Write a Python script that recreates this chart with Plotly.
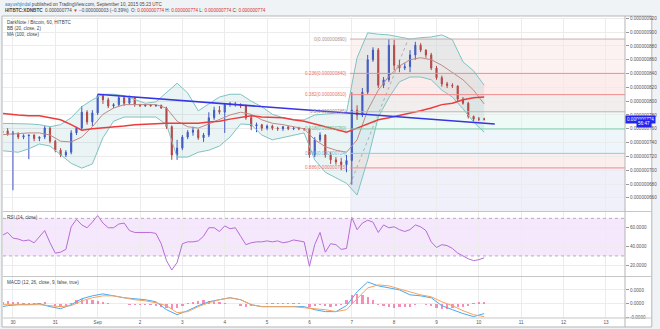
import numpy as np
import pandas as pd
import plotly.graph_objects as go
from plotly.subplots import make_subplots

NANO = 1e-9  # prices below are stored in units of 1e-9 BTC

# ---- 3-hour candles, XDN/BTC ----
candle_start = "2015-08-29 18:00"
opens = [754, 757, 752, 754, 748, 750, 751, 746, 748, 761,
         742, 729, 722, 726, 754, 761, 784, 770, 783, 808,
         802, 793, 795, 805, 797, 805, 795, 793, 795, 793,
         794, 790, 763, 722, 732, 748, 755, 758, 747, 751,
         776, 787, 784, 795, 796, 795, 793, 776, 764, 766,
         761, 764, 761, 760, 763, 760, 761, 760, 760, 722,
         744, 751, 722, 715, 712, 708, 714, 787, 780, 813,
         860, 874, 823, 831, 881, 852, 848, 850, 867, 881,
         874, 867, 848, 834, 825, 823, 822, 803, 797, 778,
         774, 774]
highs = [761, 761, 757, 754, 752, 751, 752, 749, 764, 763,
         744, 732, 729, 758, 763, 793, 787, 787, 810, 809,
         805, 797, 808, 808, 808, 806, 796, 796, 796, 795,
         795, 792, 765, 744, 751, 758, 763, 760, 754, 784,
         792, 793, 797, 799, 799, 797, 795, 779, 769, 767,
         766, 766, 763, 764, 763, 763, 763, 761, 761, 748,
         755, 752, 726, 719, 718, 722, 813, 794, 819, 867,
         878, 877, 835, 890, 889, 860, 855, 874, 886, 884,
         875, 870, 851, 837, 828, 826, 823, 806, 799, 779,
         777, 776]
lows = [750, 750, 671, 745, 745, 716, 742, 742, 745, 739,
        726, 719, 719, 723, 751, 758, 766, 764, 780, 796,
        790, 790, 792, 793, 795, 792, 792, 792, 792, 792,
        789, 760, 715, 715, 729, 745, 750, 744, 741, 748,
        773, 781, 754, 792, 792, 790, 773, 758, 755, 757,
        758, 758, 757, 757, 758, 758, 758, 757, 718, 719,
        741, 718, 709, 708, 700, 697, 679, 773, 777, 810,
        857, 819, 819, 828, 845, 842, 845, 842, 860, 871,
        863, 845, 831, 821, 819, 819, 800, 795, 775, 771,
        771, 772]
closes = [757, 752, 754, 748, 750, 751, 746, 748, 761, 742,
          729, 722, 726, 754, 761, 784, 770, 783, 808, 802,
          793, 795, 805, 797, 805, 795, 793, 795, 793, 794,
          790, 763, 722, 732, 748, 755, 758, 747, 751, 776,
          787, 784, 795, 796, 795, 793, 776, 764, 766, 761,
          764, 761, 760, 763, 760, 761, 760, 760, 722, 744,
          751, 722, 715, 712, 708, 714, 787, 780, 813, 860,
          874, 823, 831, 881, 852, 848, 850, 867, 881, 874,
          867, 848, 834, 825, 823, 822, 803, 797, 778, 774,
          774, 774]

# ---- RSI(14) and MACD histogram on the candle grid ----
rsi = [52, 55, 49, 48, 46, 47, 44, 51, 57, 44,
       33, 34, 37, 61, 69, 63, 60, 66, 73, 65,
       60, 60, 64, 65, 57, 55, 55, 55, 55, 54,
       43, 25, 15, 23, 43, 45, 45, 46, 51, 60,
       60, 56, 62, 59, 60, 51, 42, 44, 45, 45,
       46, 45, 46, 44, 45, 47, 46, 45, 19, 42,
       55, 34, 43, 42, 37, 38, 71, 58, 65, 68,
       66, 55, 63, 60, 61, 58, 56, 58, 63, 61,
       57, 45, 39, 42, 41, 38, 33, 30, 27, 25,
       26, 28]
macd_hist = [1.5, 2, 1.5, 1, 0.5, 0.5, 0.3, 0.5, 1, -0.5,
             -1.5, -2, -1.5, 0.5, 2.5, 3.5, 3, 2.5, 2, 1.5,
             0.5, -0.3, -0.5, -0.5, -0.8, -0.8, -1, -1, -1.2, -1.5,
             -2, -3, -4, -3, -1.5, 0.5, 1.5, 2, 2.5, 2,
             1.5, 1, 0.5, 0, -0.5, -1.5, -2, -1.5, -0.5, -0.3,
             0.3, 0.3, 0.2, 0.3, 0.2, 0.2, 0.2, -0.3, -2, -1.5,
             -1, -1.5, -2, -1.5, -1, 3, 6, 7, 6, 5,
             3, -1, -1.5, -2.5, -3, -2, -2.5, -2, -1, -0.5,
             -1, -1.5, -3, -4, -3.5, -3, -2.5, -2, -1.5, 0.5,
             1, 1.2]

# ---- indicator lines, 6-hour grid ----
line_start = "2015-08-29 15:00"
bb_upper = [768, 768, 768, 767, 766, 763, 766, 776, 792, 802,
            810, 810, 808, 802, 797, 799, 813, 826, 812, 786,
            796, 806, 810, 810, 800, 792, 781, 776, 773, 773,
            780, 781, 783, 784, 863, 899, 897, 896, 893, 890,
            892, 893, 896, 889, 857, 844, 823]
bb_lower = [729, 728, 726, 731, 738, 735, 722, 710, 703, 709,
            747, 771, 777, 777, 777, 777, 766, 719, 719, 726,
            729, 735, 748, 767, 766, 751, 744, 747, 750, 754,
            715, 697, 689, 681, 664, 715, 777, 805, 828, 835,
            835, 831, 816, 806, 789, 770, 755]
bb_basis = [751, 752, 754, 754, 754, 751, 742, 741, 748, 763,
            781, 790, 795, 795, 795, 795, 790, 771, 763, 761,
            767, 773, 780, 784, 781, 773, 768, 766, 763, 760,
            744, 734, 729, 726, 744, 787, 816, 836, 851, 860,
            863, 860, 852, 842, 831, 816, 796]
ma100 = [783, 781, 780, 779, 779, 776, 773, 766, 758, 760,
         761, 763, 764, 766, 767, 767, 768, 768, 768, 768,
         770, 771, 774, 777, 779, 777, 776, 776, 773, 771,
         767, 763, 758, 755, 761, 767, 773, 776, 779, 783,
         786, 790, 795, 797, 802, 805, 806]
macd_line = [-2.9, -1.4, -0.7, -0.7, 0, -2.1, -3.6, -0.7, 3.6, 5.7,
             7.1, 5.7, 4.3, 3.6, 2.9, 1.4, -4.3, -7.9, -5.0, -1.4,
             1.4, 2.9, 4.3, 2.9, -0.7, -2.1, -2.1, -2.1, -2.1, -2.1,
             -4.3, -5.7, -5.7, -1.4, 8.6, 15.7, 12.9, 11.4, 10, 6.4,
             5.7, 4.3, -1.4, -4.3, -7.1, -9.3, -7.1]
macd_signal = [-0.7, -0.7, -0.7, -0.7, -0.7, -1.4, -2.1, -1.4, 2.1, 4.3,
               5.7, 5.7, 4.3, 2.9, 2.1, 0.7, -1.4, -6.4, -5.7, -2.1,
               0.7, 2.9, 4.3, 2.9, -0.7, -2.1, -2.1, -2.1, -2.1, -2.9,
               -3.6, -4.3, -5.7, -4.3, 3.6, 11.4, 13.6, 12.9, 10.7, 8.6,
               6.4, 5.0, 1.4, -1.4, -5.0, -7.9, -9.3]

# ---- drawings ----
trend_times = ["2015-09-01 00:00", "2015-09-10 09:00"]
trend_prices = [810, 767]
fib_start = "2015-09-06 23:00"
fib_peak_time = "2015-09-08 08:00"
fib_high, fib_low = 890, 679.3
fib_levels = [0, 0.236, 0.382, 0.5, 0.618, 0.786, 0.886]
fib_line_colors = ["#c9b0b0", "#f08c8c", "#f08c8c", "#bdb5b5", "#7dd0ab", "#8ec9e8", "#f08c8c"]
fib_text_colors = ["#b08f8f", "#e87070", "#e87070", "#9a8f8f", "#5cc095", "#6fb6de", "#e87070"]
fib_band_colors = ["#fdf2f2", "#fcecec", "#f2eeee", "#eefaf5", "#eef6fc", "#fdeeee", "#f0f0fb"]

day_ticks = pd.date_range("2015-08-30", "2015-09-13", freq="D")
day_labels = ["30", "31", "Sep", "2", "3", "4", "5", "6", "7", "8", "9", "10", "11", "12", "13"]
last_price = 774
countdown = "56:47"

x_range = ["2015-08-29 18:22", "2015-09-13 10:48"]

candle_times = pd.date_range(candle_start, periods=len(closes), freq="3h")
line_times = pd.date_range(line_start, periods=len(ma100), freq="6h")
nb = lambda v: np.asarray(v, dtype=float) * NANO

FONT = "Liberation Sans, Arial, sans-serif"
GRID = "#ececec"

fig = make_subplots(rows=3, cols=1, shared_xaxes=True, vertical_spacing=0.0)

# Bollinger band fill + edges
fig.add_trace(go.Scatter(x=line_times, y=nb(bb_upper), mode="lines",
                         line=dict(color="#7fc3c3", width=1)), row=1, col=1)
fig.add_trace(go.Scatter(x=line_times, y=nb(bb_lower), mode="lines", fill="tonexty",
                         fillcolor="rgba(90,170,170,0.13)",
                         line=dict(color="#7fc3c3", width=1)), row=1, col=1)
fig.add_trace(go.Scatter(x=line_times, y=nb(bb_basis), mode="lines",
                         line=dict(color="#c08a84", width=1)), row=1, col=1)
fig.add_trace(go.Scatter(x=line_times, y=nb(ma100), mode="lines",
                         line=dict(color="#ee3b3b", width=1.5)), row=1, col=1)
fig.add_trace(go.Scatter(x=trend_times, y=nb(trend_prices), mode="lines",
                         line=dict(color="#3535e6", width=1.6)), row=1, col=1)
fig.add_trace(go.Scatter(x=[fib_start, fib_peak_time], y=nb([fib_low, fib_high]), mode="lines",
                         line=dict(color="rgba(130,130,130,0.55)", width=1, dash="dot")), row=1, col=1)
fig.add_trace(go.Candlestick(x=candle_times, open=nb(opens), high=nb(highs), low=nb(lows),
                             close=nb(closes), whiskerwidth=0,
                             increasing=dict(line=dict(color="#3d4fc6", width=1), fillcolor="#3d4fc6"),
                             decreasing=dict(line=dict(color="#c03a3a", width=1), fillcolor="#c03a3a")),
              row=1, col=1)

# RSI
fig.add_trace(go.Scatter(x=candle_times, y=rsi, mode="lines",
                         line=dict(color="#b66cd8", width=1)), row=2, col=1)

# MACD
fig.add_trace(go.Bar(x=candle_times, y=nb(macd_hist), width=3600 * 1000 * 1.3,
                     marker=dict(color="rgba(240,105,160,0.75)", line=dict(width=0))), row=3, col=1)
fig.add_trace(go.Scatter(x=line_times, y=nb(macd_line), mode="lines",
                         line=dict(color="#4aa8f2", width=1)), row=3, col=1)
fig.add_trace(go.Scatter(x=line_times, y=nb(macd_signal), mode="lines",
                         line=dict(color="#f5a35c", width=1)), row=3, col=1)

shapes = []
# chart frame
shapes.append(dict(type="rect", xref="paper", yref="paper", x0=-0.0016, x1=1.0431, y0=-0.0298, y1=1.0,
                   fillcolor="white", line=dict(color="#b5b5b5", width=1), layer="below"))

# Fibonacci bands and levels
prices = [fib_high - lv * (fib_high - fib_low) for lv in fib_levels]
band_edges = prices + [600]
for i, col in enumerate(fib_band_colors):
    shapes.append(dict(type="rect", xref="x", yref="y", x0=fib_start, x1=x_range[1],
                       y0=band_edges[i + 1] * NANO, y1=band_edges[i] * NANO,
                       fillcolor=col, line=dict(width=0), layer="below"))
for p, col in zip(prices, fib_line_colors):
    shapes.append(dict(type="line", xref="x", yref="y", x0=fib_start, x1=x_range[1],
                       y0=p * NANO, y1=p * NANO, line=dict(color=col, width=1)))

# RSI band
shapes.append(dict(type="rect", xref="paper", yref="y2", x0=0, x1=1, y0=30, y1=70,
                   fillcolor="#f5e7fc", line=dict(width=0), layer="below"))
for lv in (30, 70):
    shapes.append(dict(type="line", xref="paper", yref="y2", x0=0, x1=1, y0=lv, y1=lv,
                       line=dict(color="#b9aac2", width=1, dash="dot")))

# pane separators and price-scale border
for yp in (0.3526, 0.1374, 0.0):
    shapes.append(dict(type="line", xref="paper", yref="paper", x0=0, x1=1.0431, y0=yp, y1=yp,
                       line=dict(color="#c6c6c6", width=1)))
shapes.append(dict(type="line", xref="paper", yref="paper", x0=1, x1=1, y0=-0.0298, y1=1.0,
                   line=dict(color="#b5b5b5", width=1)))

annotations = []
for lv, p, col in zip(fib_levels, prices, fib_text_colors):
    annotations.append(dict(xref="x", yref="y", x=fib_start, y=p * NANO,
                            text=f"{lv:g}({p * NANO:.9f})", showarrow=False,
                            xanchor="right", yanchor="middle", xshift=-1,
                            font=dict(family=FONT, size=4.6, color=col)))

txt = dict(family=FONT, size=4.6, color="#444")
annotations += [
    dict(xref="paper", yref="paper", x=0.0, y=1.0374, xanchor="left", yanchor="middle", showarrow=False,
         text='<span style="color:#2f7fd0">aayushjindal</span> published on TradingView.com, September 10, 2015 05:23 UTC',
         font=txt),
    dict(xref="paper", yref="paper", x=0.0, y=1.0189, xanchor="left", yanchor="middle", showarrow=False,
         text=('<b>HITBTC:XDNBTC</b>  0.000000774 <span style="color:#d03030">▼</span> '
               '\u22120.000000003 (\u22120.39%)  '
               'O: <span style="color:#d03030">0.000000774</span> H: <span style="color:#d03030">0.000000774</span> '
               'L: <span style="color:#d03030">0.000000774</span> C: <span style="color:#d03030">0.000000774</span>'),
         font=txt),
    dict(xref="paper", yref="paper", x=0.004, y=0.9785, xanchor="left", yanchor="middle", showarrow=False,
         text="DarkNote / Bitcoin, 60, HITBTC", font=txt),
    dict(xref="paper", yref="paper", x=0.004, y=0.9586, xanchor="left", yanchor="middle", showarrow=False,
         text="BB (20, close, 2)", font=txt),
    dict(xref="paper", yref="paper", x=0.004, y=0.9387, xanchor="left", yanchor="middle", showarrow=False,
         text="MA (100, close)", font=txt),
    dict(xref="paper", yref="paper", x=0.004, y=0.3344, xanchor="left", yanchor="middle", showarrow=False,
         text="RSI (14, close)", font=txt),
    dict(xref="paper", yref="paper", x=0.004, y=0.1192, xanchor="left", yanchor="middle", showarrow=False,
         text="MACD (12, 26, close, 9, false, true)", font=txt),
    dict(xref="paper", yref="y", x=1.0, y=last_price * NANO, xanchor="left", yanchor="middle",
         showarrow=False, text=f"{last_price * NANO:.9f}", bgcolor="#2424f0", borderpad=1,
         font=dict(family=FONT, size=4.6, color="white")),
    dict(xref="paper", yref="paper", x=1.0431, y=0.6424, xanchor="right", yanchor="middle",
         showarrow=False, text=countdown, bgcolor="#2424f0", borderpad=1,
         font=dict(family=FONT, size=4.6, color="white")),
]

tickfont = dict(family=FONT, size=4.6, color="#555")
fig.update_layout(
    width=660, height=329, margin=dict(l=3, r=30, t=16, b=11),
    paper_bgcolor="#f0f3f6", plot_bgcolor="rgba(0,0,0,0)",
    showlegend=False, shapes=shapes, annotations=annotations,
    bargap=0, boxgap=0.7,
    yaxis=dict(domain=[0.3543, 1.0], range=[640.9 * NANO, 923.4 * NANO], side="right",
               tick0=0, dtick=20 * NANO, tickformat=".9f", ticks="outside", ticklen=3,
               tickcolor="#999", tickfont=tickfont, showgrid=True, gridcolor=GRID, zeroline=False),
    yaxis2=dict(domain=[0.1374, 0.3526], range=[8.1, 77.3], side="right",
                tickvals=[20, 40, 60], tickformat=".4f", ticks="outside", ticklen=3,
                tickcolor="#999", tickfont=tickfont, showgrid=True, gridcolor=GRID, zeroline=False),
    yaxis3=dict(domain=[0.0, 0.1358], range=[-10.3 * NANO, 19.3 * NANO], side="right",
                tickvals=[10 * NANO, 0, -10 * NANO], ticktext=["0.0000", "0.0000", "-0.0000"],
                ticks="outside", ticklen=3, tickcolor="#999", tickfont=tickfont,
                showgrid=True, gridcolor=GRID, zeroline=False),
)
for ax in ("xaxis", "xaxis2", "xaxis3"):
    fig.layout[ax].update(type="date", range=x_range, tickvals=day_ticks, ticktext=day_labels,
                          showgrid=True, gridcolor=GRID, zeroline=False, ticks="",
                          rangeslider=dict(visible=False), showline=False,
                          showticklabels=(ax == "xaxis3"), tickfont=tickfont)

fig.write_html("out.html", config={"displayModeBar": False})
